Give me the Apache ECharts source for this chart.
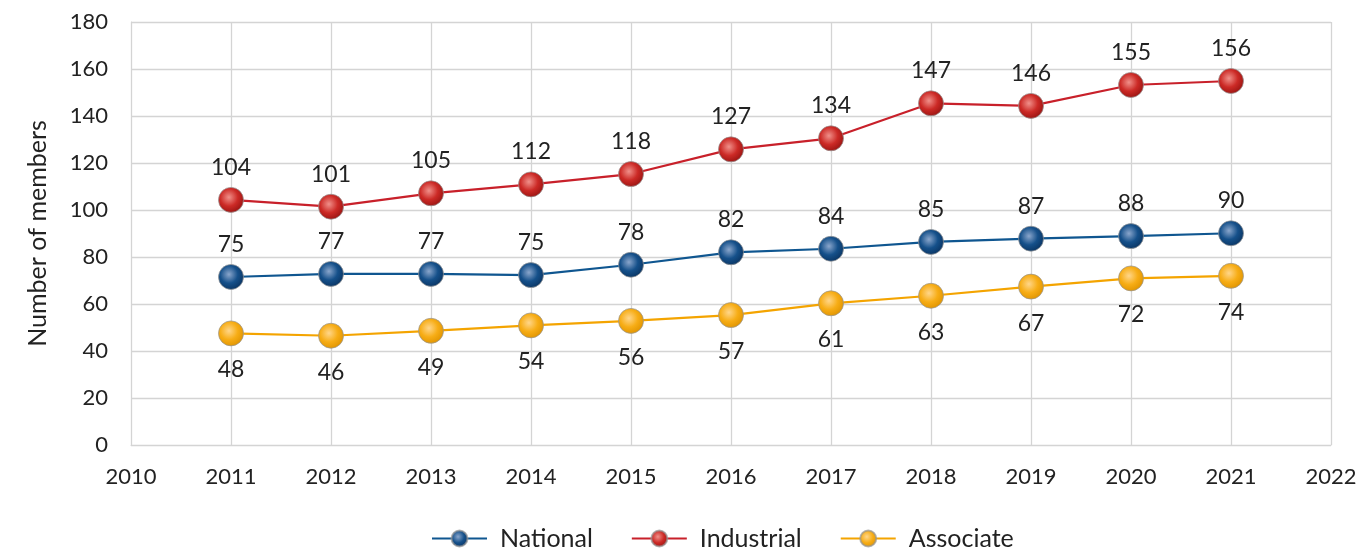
<!DOCTYPE html>
<html>
<head>
<meta charset="utf-8">
<script src="https://cdn.jsdelivr.net/npm/echarts@6/dist/echarts.min.js"></script>
<style>
  html, body { margin: 0; padding: 0; background: #fff; }
  #main { width: 1361px; height: 550px; }
</style>
</head>
<body>
<div id="main"></div>
<script>
// years on the x axis
var years = [2011, 2012, 2013, 2014, 2015, 2016, 2017, 2018, 2019, 2020, 2021];
// plotted positions
var nationalValues   = [71.5, 72.8, 72.8, 72.3, 76.7, 82.0, 83.5, 86.4, 87.8, 88.9, 90.1];
var industrialValues = [104.3, 101.4, 107.1, 110.9, 115.3, 125.8, 130.5, 145.4, 144.3, 153.2, 154.9];
var associateValues  = [47.5, 46.5, 48.6, 50.9, 52.8, 55.3, 60.3, 63.5, 67.4, 70.9, 72.0];
// data labels as printed
var nationalLabels   = [75, 77, 77, 75, 78, 82, 84, 85, 87, 88, 90];
var industrialLabels = [104, 101, 105, 112, 118, 127, 134, 147, 146, 155, 156];
var associateLabels  = [48, 46, 49, 54, 56, 57, 61, 63, 67, 72, 74];

var FONT = 'Lato';

function ball(light, base, dark) {
    return {
        type: 'radial', x: 0.42, y: 0.4, r: 0.62,
        colorStops: [
            { offset: 0, color: light },
            { offset: 0.55, color: base },
            { offset: 1, color: dark }
        ]
    };
}

function makeSeries(name, values, labels, lineColor, fill, labelPos, labelDist) {
    return {
        name: name,
        type: 'line',
        data: years.map(function (y, i) { return [y, values[i]]; }),
        symbol: 'circle',
        symbolSize: 25,
        lineStyle: { color: lineColor, width: 2.2 },
        itemStyle: {
            color: fill,
            borderColor: 'rgba(150,150,150,0.7)',
            borderWidth: 1
        },
        label: {
            show: true,
            position: labelPos,
            distance: labelDist,
            fontFamily: FONT,
            fontSize: 23,
            color: '#222',
            formatter: function (p) { return labels[p.dataIndex]; }
        },
        emphasis: { disabled: true },
        z: 3
    };
}

var myChart = echarts.init(document.getElementById('main'));
myChart.setOption({
    animation: false,
    grid: { left: 131, right: 30, top: 22, bottom: 105 },
    legend: {
        top: 521,
        left: 426,
        itemWidth: 55,
        itemHeight: 20,
        itemGap: 38,
        textStyle: { fontFamily: FONT, fontSize: 25, color: '#222', padding: [0, 0, 0, 8] },
        data: ['National', 'Industrial', 'Associate']
    },
    xAxis: {
        type: 'value',
        min: 2010,
        max: 2022,
        interval: 1,
        axisLine: { show: true, lineStyle: { color: '#d4d4d4' } },
        axisTick: { show: false },
        splitLine: { show: true, lineStyle: { color: '#d4d4d4', width: 1.3 } },
        axisLabel: {
            margin: 21,
            fontFamily: FONT,
            fontSize: 22,
            color: '#222',
            formatter: function (v) { return String(v); }
        }
    },
    yAxis: {
        type: 'value',
        min: 0,
        max: 180,
        interval: 20,
        name: 'Number of members',
        nameLocation: 'middle',
        nameGap: 81,
        nameTextStyle: { fontFamily: FONT, fontSize: 25, color: '#222' },
        axisLine: { show: true, lineStyle: { color: '#d4d4d4' } },
        axisTick: { show: false },
        splitLine: { lineStyle: { color: '#d4d4d4', width: 1.3 } },
        axisLabel: { margin: 23, fontFamily: FONT, fontSize: 22, color: '#222' }
    },
    series: [
        makeSeries('National', nationalValues, nationalLabels, '#0f5690',
            ball('#8aa6cc', '#15508a', '#0a3563'), 'top', 8),
        makeSeries('Industrial', industrialValues, industrialLabels, '#c8202a',
            ball('#f0908a', '#cc2a26', '#9a1412'), 'top', 8),
        makeSeries('Associate', associateValues, associateLabels, '#f4a400',
            ball('#ffd68a', '#f7ad16', '#e09400'), 'bottom', 12)
    ]
});
</script>
</body>
</html>
